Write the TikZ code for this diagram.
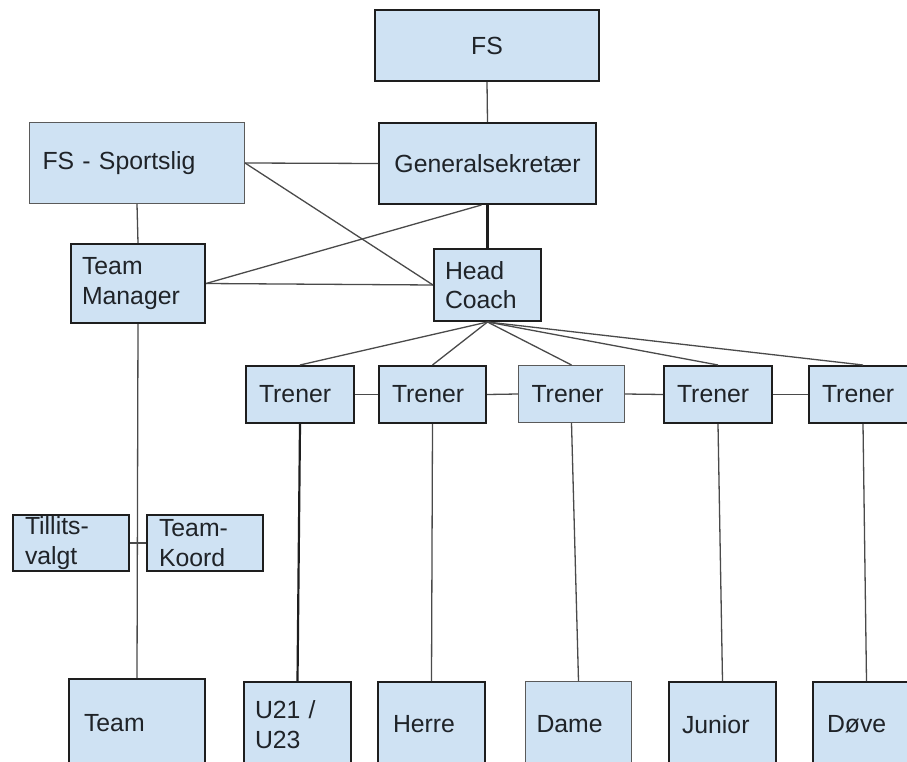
\documentclass[tikz,border=0pt]{standalone}
\usepackage{fontspec}
\setmainfont{Liberation Sans}
\usetikzlibrary{calc}
\definecolor{boxblue}{HTML}{CFE2F3}
\definecolor{darkline}{HTML}{1E1E1E}
\definecolor{thingray}{HTML}{5A5A5A}
\definecolor{conngray}{HTML}{4A4A4A}
\definecolor{textcol}{HTML}{1F2328}
\newcommand\boxfont{\fontsize{24.8}{29.5}\selectfont}
\begin{document}
\begin{tikzpicture}[x=1pt,y=-1pt,
  box/.style={draw=darkline, line width=2pt, fill=boxblue, font=\boxfont, text=textcol,
    align=left, inner ysep=0pt, anchor=north west},
  thinbox/.style={box, draw=thingray, line width=1pt},
  cbox/.style={box, align=center},
  conn/.style={draw=conngray, line width=1.3pt},
  thickconn/.style={draw=darkline, line width=2.2pt}]
\useasboundingbox (0,0) rectangle (907,762);
\clip (0,0) rectangle (907,762);
\fill[white] (0,0) rectangle (907,762);

% top
\node[cbox, text width=198pt, inner xsep=13pt, minimum height=71pt] (fs) at (374,9) {FS};
\node[cbox, text width=205pt, inner xsep=6pt, minimum height=81pt] (gen) at (378,122) {Generalsekretær};
\node[thinbox, text width=189pt, inner xsep=13pt, minimum height=81pt] (sport) at (29,122) {FS - Sportslig};
\node[box, text width=112pt, inner xsep=11pt, minimum height=79pt] (tm) at (70,243) {Team\\Manager};
\node[box, text width=85pt, inner xsep=11pt, minimum height=72pt] (hc) at (433,248) {Head\\Coach};

% trainers
\node[box, text width=82pt, inner xsep=13pt, minimum height=57pt] (t1) at (245,365) {Trener};
\node[box, text width=81pt, inner xsep=13pt, minimum height=57pt] (t2) at (378,365) {Trener};
\node[thinbox, text width=80pt, inner xsep=13pt, minimum height=57pt] (t3) at (518,365) {Trener};
\node[box, text width=82pt, inner xsep=13pt, minimum height=57pt] (t4) at (663,365) {Trener};
\node[box, text width=82pt, inner xsep=13pt, minimum height=57pt] (t5) at (808,365) {Trener};

% left side
\node[box, text width=92pt, inner xsep=12pt, minimum height=56pt] (till) at (12,514) {Tillits-\\valgt};
\node[box, text width=92pt, inner xsep=12pt, minimum height=56pt] (koord) at (146,514) {Team-\\Koord};

% bottom row
\node[box, text width=106pt, inner xsep=15pt, minimum height=88pt] (team) at (68,678) {Team};
\node[box, text width=85pt, inner xsep=11pt, minimum height=85pt] (u21) at (243,681) {U21 /\\U23};
\node[box, text width=77pt, inner xsep=15pt, minimum height=85pt] (herre) at (377,681) {Herre};
\node[thinbox, text width=84pt, inner xsep=11pt, minimum height=85pt] (dame) at (525,681) {Dame};
\node[box, text width=81pt, inner xsep=13pt, minimum height=85pt] (junior) at (668,681) {Junior};
\node[box, text width=79pt, inner xsep=14pt, minimum height=85pt] (dove) at (812,681) {Døve};

% connectors
\draw[conn] (fs.south) -- (gen.north);
\draw[thickconn] (gen.south) -- (hc.north);
\draw[conn] (sport.east) -- (gen.west);
\draw[conn] (sport.east) -- (hc.west);
\draw[conn] ($(gen.south)+(-6,0)$) -- (tm.east);
\draw[conn] (tm.east) -- (hc.west);
\draw[conn] (sport.south) -- (tm.north);
\draw[conn] (tm.south) -- (team.north);
\draw[conn] (till.east) -- (koord.west);

\foreach \t in {t1,t2,t3,t4,t5} \draw[conn] (hc.south) -- (\t.north);
\draw[conn] (t1.east) -- (t2.west);
\draw[conn] (t2.east) -- (t3.west);
\draw[conn] (t3.east) -- (t4.west);
\draw[conn] (t4.east) -- (t5.west);

\draw[thickconn] (t1.south) -- (u21.north);
\draw[conn] (t2.south) -- (herre.north);
\draw[conn] (t3.south) -- (dame.north);
\draw[conn] (t4.south) -- (junior.north);
\draw[conn] (t5.south) -- (dove.north);
\end{tikzpicture}
\end{document}
